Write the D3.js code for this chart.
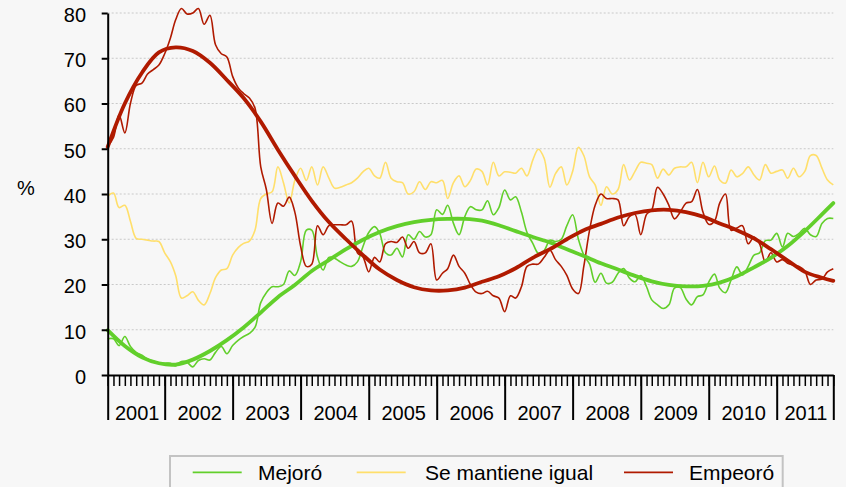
<!DOCTYPE html>
<html>
<head>
<meta charset="utf-8">
<script src="https://cdn.jsdelivr.net/npm/d3@7"></script>
<style>
  html, body { margin: 0; padding: 0; background: #f7f7f7; }
  svg { display: block; font-family: "Liberation Sans", Arial, sans-serif; }
</style>
</head>
<body>
<svg id="chart" width="846" height="487"></svg>
<script>
// ---- Data (monthly, March 2001 – November 2011) ----
const startMonth = [2001, 2];   // year, month index (March)
const endMonth = [2011, 10];    // November 2011
const yearLabels = ["2001","2002","2003","2004","2005","2006","2007","2008","2009","2010","2011"];
const yTicks = [0, 10, 20, 30, 40, 50, 60, 70, 80];
const seriesNames = ["Mejoró", "Se mantiene igual", "Empeoró"];

const mejoro = [8,8,6.5,8.5,6.3,5,4.4,3.5,3.1,2.7,2.6,2.6,2,3,2.8,1.8,3.2,3.6,3.3,5,
  6.3,4.7,6.5,7.7,8.5,9.2,10.5,16,18.2,19.5,19.5,20,23,22,25,32,32,26,23.2,26,
  25.8,25,24.3,24,25,28.4,31.5,32.8,31.3,27,26.5,28,26.1,31,30,31.7,30.5,31,36.5,35.5,
  37.5,33.5,31,35,37.2,36.5,36.5,38.5,35.4,37,40.9,38.7,39.4,36,31.5,29.1,26.9,27.5,29.8,29.5,
  30,33,35.4,30,26.5,24.5,20.5,22.5,20.3,20.5,22.5,23.5,21.4,20.6,22,19.5,16.6,15.5,14.7,15.5,
  19.2,19.3,16.8,15.5,17.3,17.7,20.5,22.3,19.2,18.2,21,23.9,22.1,24,26.5,27,29.7,29.8,31.3,28.3,
  31.3,30.6,31.3,32.4,31,30.6,33.5,34.6,34.6];

const seMantiene = [39.5,40.2,37,37.5,34,30.2,30,29.8,29.6,29.5,27,25,22,17,17.5,18.4,16.5,15.5,18,21.5,
  23.2,23.5,26.5,28.2,29.1,29.6,32,39,40,40.5,46,42.5,38,43,45.7,43,46,42,46,43.5,
  41.3,41.5,42,42.5,43.5,44.9,45.7,44,43.5,47,43.5,42.7,42.5,40,40.5,42.7,41,42.7,42.5,43,
  39,42.5,44,41.6,43,45.5,45,42,47,44,44.9,44.8,44.6,45.7,44,47.5,49.9,47.9,41.5,44.5,
  46,42,45,50.3,48.5,43.8,42,37.5,41.6,40,41,46.5,43.1,45,47,46.8,46.5,43.5,45.5,44.2,
  45.7,46,46,47,42.5,47,43.8,46.2,43.1,42.4,45.3,43.8,44.5,46,44.2,43.1,46.5,44.6,45,45.3,
  43.5,45.7,43.8,45,48.5,48.5,45.7,43.1,42];

const empeoro = [50.5,52.5,57.5,53.5,60,64,64.5,66.5,67.5,68.5,71,74.5,78.5,81,79.8,80,81,77.5,79.5,73,
  71,70.3,66,63.4,62.2,61.2,59,46,41,33.5,38,37.3,39.3,36,28.5,24,24.5,33,31,33,
  33.2,33.2,33.2,34,27,26.1,22.8,26,25,29,29.5,29.3,30.5,28,29.5,27,27,29,21,22.5,
  23.5,26.5,24,22.5,20,18.3,18,18.5,17.5,17,14,17.5,17,19.5,24,24.5,24.5,26,27.6,25.5,
  24,22,19,18,24,32,37.5,40,39,39,38.7,33,35,35.5,31,35.5,36.5,41.5,40,37.5,
  34.5,36,38,38.3,41,36,33.3,34,38,40,32,32.5,33,29,30.5,29,25,27,25,25.5,
  24.7,24.3,24,23,20,21,21.2,22.8,23.5];

// Trend lines, read every 3 months (month offsets from March 2001)
const trendMonths = [0,3,6,9,12,15,18,21,24,27,30,33,36,39,42,45,48,51,54,57,60,63,66,69,72,75,78,81,84,87,90,93,96,99,102,105,108,111,114,117,120,123,126,128];
const trendMejoro = [9.9,6.4,3.9,2.6,2.3,3.4,5.3,7.7,10.5,13.8,17.2,19.9,23,25.4,27.8,29.9,31.6,32.9,33.8,34.3,
  34.5,34.5,34.1,33.1,31.8,30.5,29.3,27.8,26.3,24.7,23.3,21.9,20.7,19.9,19.6,19.7,20.4,21.8,23.8,25.9,
  28.5,31.8,35.5,38];
const trendEmpeoro = [50.4,60,66.8,71.3,72.4,71.6,69,65.2,61.2,56,49.8,44,38.5,33.8,30,26.5,23.3,21,19.4,18.7,
  18.7,19.3,20.6,21.8,23.6,25.9,27.8,30,32,33.4,34.8,35.8,36.4,36.5,36,35,33.5,32,30.2,27.8,
  25.3,22.8,21.5,20.8];

const colors = { mejoro: "#62cf2b", se: "#ffdf6b", emp: "#b01a00" };

// ---- Chart ----
const svg = d3.select("#chart");
const W = 846, H = 487;
svg.append("rect").attr("width", W).attr("height", H).attr("fill", "#f7f7f7");

const start = new Date(startMonth[0], startMonth[1], 1);
const end = new Date(endMonth[0], endMonth[1], 1);
const plotLeft = 107.7, plotRight = 833.3, plotTop = 13, plotBottom = 375;

const x = d3.scaleTime().domain([start, end]).range([plotLeft, plotRight]);
const y = d3.scaleLinear().domain([0, 80]).range([plotBottom, plotTop]);

const dateAt = i => d3.timeMonth.offset(start, i);

// grid
svg.append("g").selectAll("line").data(yTicks.filter(d => d > 0)).join("line")
  .attr("x1", plotLeft).attr("x2", plotRight)
  .attr("y1", d => y(d)).attr("y2", d => y(d))
  .attr("stroke", "#c9c9c9").attr("stroke-width", 1).attr("stroke-dasharray", "2,2");

// lines
const line = d3.line().x(d => x(d[0])).y(d => y(d[1])).curve(d3.curveCatmullRom.alpha(0.5));
const mk = arr => arr.map((v, i) => [dateAt(i), v]);
const mkT = (idx, arr) => arr.map((v, k) => [dateAt(idx[k]), v]);

const plot = svg.append("g");
plot.append("path").attr("d", line(mk(mejoro))).attr("fill", "none")
  .attr("stroke", colors.mejoro).attr("stroke-width", 1.6);
plot.append("path").attr("d", line(mk(seMantiene))).attr("fill", "none")
  .attr("stroke", colors.se).attr("stroke-width", 1.6);
plot.append("path").attr("d", line(mk(empeoro))).attr("fill", "none")
  .attr("stroke", colors.emp).attr("stroke-width", 1.6);
plot.append("path").attr("d", line(mkT(trendMonths, trendMejoro))).attr("fill", "none")
  .attr("stroke", colors.mejoro).attr("stroke-width", 3.8).attr("stroke-linecap", "round");
plot.append("path").attr("d", line(mkT(trendMonths, trendEmpeoro))).attr("fill", "none")
  .attr("stroke", colors.emp).attr("stroke-width", 3.8).attr("stroke-linecap", "round");

// y axis
const yAxis = svg.append("g").attr("transform", `translate(${plotLeft},0)`)
  .call(d3.axisLeft(y).tickValues(yTicks).tickSize(6).tickPadding(15.7).tickSizeOuter(0));
yAxis.select(".domain").attr("stroke", "#000").attr("stroke-width", 2);
yAxis.selectAll(".tick line").attr("stroke", "#000").attr("stroke-width", 2);
yAxis.selectAll(".tick text").attr("font-size", 20).attr("fill", "#000")
  .attr("font-family", "Liberation Sans, Arial, sans-serif").attr("dy", "0.42em");

svg.append("text").attr("x", 26).attr("y", 195).attr("text-anchor", "middle")
  .attr("font-size", 20).attr("fill", "#000").text("%");

// x axis: monthly minor ticks
const months = d3.timeMonth.range(start, d3.timeDay.offset(end, 1));
const xMinor = svg.append("g").attr("transform", `translate(0,${plotBottom})`)
  .call(d3.axisBottom(x).tickValues(months).tickSize(11).tickFormat("").tickSizeOuter(0));
xMinor.select(".domain").attr("stroke", "#000").attr("stroke-width", 2);
xMinor.selectAll(".tick line").attr("stroke", "#000").attr("stroke-width", 1.5);

// year boundary ticks
const bounds = [start, ...d3.timeYear.range(d3.timeDay.offset(start, 1), end), end];
const xMajor = svg.append("g").attr("transform", `translate(0,${plotBottom})`)
  .call(d3.axisBottom(x).tickValues(bounds).tickSize(45).tickFormat("").tickSizeOuter(0));
xMajor.select(".domain").remove();
xMajor.selectAll(".tick line").attr("stroke", "#000").attr("stroke-width", 2);

// year labels centered between boundaries
svg.append("g").selectAll("text").data(yearLabels).join("text")
  .attr("x", (d, i) => (x(bounds[i]) + x(bounds[i + 1])) / 2 + 1)
  .attr("y", 420).attr("text-anchor", "middle")
  .attr("font-size", 20).attr("fill", "#000").text(d => d);

// legend
const lg = svg.append("g");
lg.append("rect").attr("x", 170).attr("y", 456).attr("width", 612.7).attr("height", 50)
  .attr("fill", "#f7f7f7").attr("stroke", "#c3c3c3").attr("stroke-width", 2);
const legendItems = [
  { name: seriesNames[0], color: colors.mejoro, x0: 192.7, tx: 258 },
  { name: seriesNames[1], color: colors.se, x0: 356.7, tx: 425 },
  { name: seriesNames[2], color: colors.emp, x0: 624, tx: 689 }
];
legendItems.forEach(it => {
  lg.append("line").attr("x1", it.x0).attr("x2", it.x0 + 49).attr("y1", 472.3).attr("y2", 472.3)
    .attr("stroke", it.color).attr("stroke-width", 1.8);
  lg.append("text").attr("x", it.tx).attr("y", 480).attr("font-size", 21)
    .attr("fill", "#000").text(it.name);
});
</script>
</body>
</html>
